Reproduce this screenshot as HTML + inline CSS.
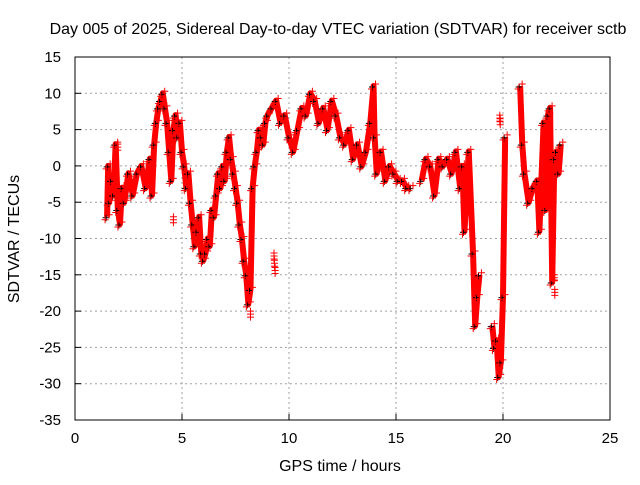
<!DOCTYPE html>
<html><head><meta charset="utf-8"><style>
body{margin:0;background:#fff;}
text{font-family:"Liberation Sans",sans-serif;fill:#000;}
</style></head><body>
<svg id="c" width="640" height="480" xmlns="http://www.w3.org/2000/svg">
<text x="338" y="34" font-size="16" text-anchor="middle">Day 005 of 2025, Sidereal Day-to-day VTEC variation (SDTVAR) for receiver sctb</text>
<text x="340" y="471" font-size="16" text-anchor="middle">GPS time / hours</text>
<text transform="translate(19,239) rotate(-90)" font-size="16" text-anchor="middle">SDTVAR / TECUs</text>
<g id="grid"></g><g id="series"></g>
<rect x="75" y="57" width="535" height="363" fill="none" stroke="#000"/>
</svg>
<script>
const xTicks=[0,5,10,15,20,25];
const yTicks=[15,10,5,0,-5,-10,-15,-20,-25,-30,-35];
const times=[1.5,1.55,1.6,1.7,1.8,1.9,2.0,2.1,2.2,2.3,2.5,2.7,2.9,3.1,3.3,3.5,3.6,3.7,3.8,3.9,4.0,4.1,4.2,4.3,4.4,4.5,4.6,4.7,4.8,4.9,5.0,5.1,5.2,5.3,5.4,5.5,5.6,5.7,5.8,5.9,6.0,6.1,6.2,6.3,6.4,6.5,6.6,6.7,6.8,6.9,7.0,7.1,7.2,7.3,7.4,7.5,7.6,7.7,7.8,7.9,8.0,8.1,8.2,8.3,8.4,8.5,8.6,8.7,8.8,8.9,9.0,9.2,9.4,9.6,9.8,10.0,10.2,10.4,10.6,10.8,11.0,11.2,11.4,11.6,11.8,12.0,12.2,12.4,12.6,12.8,13.0,13.2,13.4,13.6,13.8,13.95,14.0,14.1,14.3,14.5,14.7,14.9,15.1,15.3,15.5,15.7,16.2,16.4,16.6,16.8,17.0,17.2,17.4,17.6,17.8,18.0,18.1,18.2,18.4,18.6,18.7,18.8,18.9,19.5,19.6,19.7,19.8,19.9,20.0,20.1,20.8,20.9,21.0,21.2,21.4,21.6,21.7,21.9,22.0,22.1,22.2,22.3,22.4,22.5,22.6,22.7,22.8];
const values=[-7,0,-5,-2,-4,3,-6,-8,-3,-5,-1,-4,-1,0,-3,1,-4,3,6,8,9,10,8,6,2,-2,5,7,4,6,2,0,-3,-1,-5,-8,-11,-9,-7,-12,-13,-12,-10,-11,-6,-7,-4,-1,-3,0,-2,2,4,1,-1,-3,-5,-8,-10,-13,-15,-19,-17,-3,0,2,5,4,3,6,7,8,9,6,7,4,2,5,8,7,10,9,6,8,5,9,7,4,3,5,1,3,0,2,6,11,4,-1,2,-2,0,-1,-2,-2,-3,-3,-2,1,0,-4,1,0,1,-1,2,-3,0,-9,2,-12,-22,-18,-15,-22,-25,-24,-29,-27,-18,4,11,3,-1,-5,-3,-2,-9,6,-6,7,8,-16,1,2,-1,3];
const outlierTimes=[9.3,9.32,9.35,19.85,19.87,22.4,22.42,2.0,4.6,8.2];
const outlierValues=[-12,-13,-14,7,6.5,-15,-17,3,-7,-20];
const X=t=>75+t*535/25, Y=v=>57+(15-v)*363/50;
const ns="http://www.w3.org/2000/svg", g=document.getElementById('grid'), s=document.getElementById('series');
function mk(tag,attrs,parent){const e=document.createElementNS(ns,tag);for(const k in attrs)e.setAttribute(k,attrs[k]);parent.appendChild(e);return e;}
xTicks.forEach(t=>{
 if(t>0&&t<25){const l=mk('line',{x1:X(t),x2:X(t),y1:57,y2:420,stroke:'#a0a0a0','stroke-dasharray':'2,3'},g);
 
 }
 mk('line',{x1:X(t),x2:X(t),y1:420,y2:414,stroke:'#000'},g);
 const tx=mk('text',{x:X(t),y:443,'font-size':15,'text-anchor':'middle'},g);tx.textContent=t;
 
 
});
yTicks.forEach(v=>{
 if(v<15&&v>-35){const l=mk('line',{x1:75,x2:610,y1:Y(v),y2:Y(v),stroke:'#a0a0a0','stroke-dasharray':'2,3'},g);
 
 }
 mk('line',{x1:75,x2:81,y1:Y(v),y2:Y(v),stroke:'#000'},g);
 const tx=mk('text',{x:61,y:Y(v)+5,'font-size':15,'text-anchor':'end'},g);tx.textContent=v;
 
 
});
let seg=[];const segs=[];
times.forEach((t,i)=>{if(seg.length&&t-times[i-1]>0.4){segs.push(seg);seg=[];}seg.push([X(t),Y(values[i])]);});
segs.push(seg);
segs.forEach(sg=>{const p=mk('polyline',{points:sg.map(q=>q.join(',')).join(' '),fill:'none',stroke:'#f00','stroke-width':6,'stroke-linejoin':'round'},s);
 
 });
function plus(x,y,c){mk('path',{d:`M${x-3.5},${y}h7M${x},${y-3.5}v7`,stroke:c,'stroke-width':1},s);}
times.forEach((t,i)=>{plus(X(t)-1,Y(values[i])+1,'#000');plus(X(t)+2,Y(values[i])-2,'#f00');plus(X(t)-2,Y(values[i])+3,'#f00');});
outlierTimes.forEach((t,i)=>{for(let k=0;k<3;k++)plus(X(t),Y(outlierValues[i])+k*3,'#f00');});
</script>
</body></html>
